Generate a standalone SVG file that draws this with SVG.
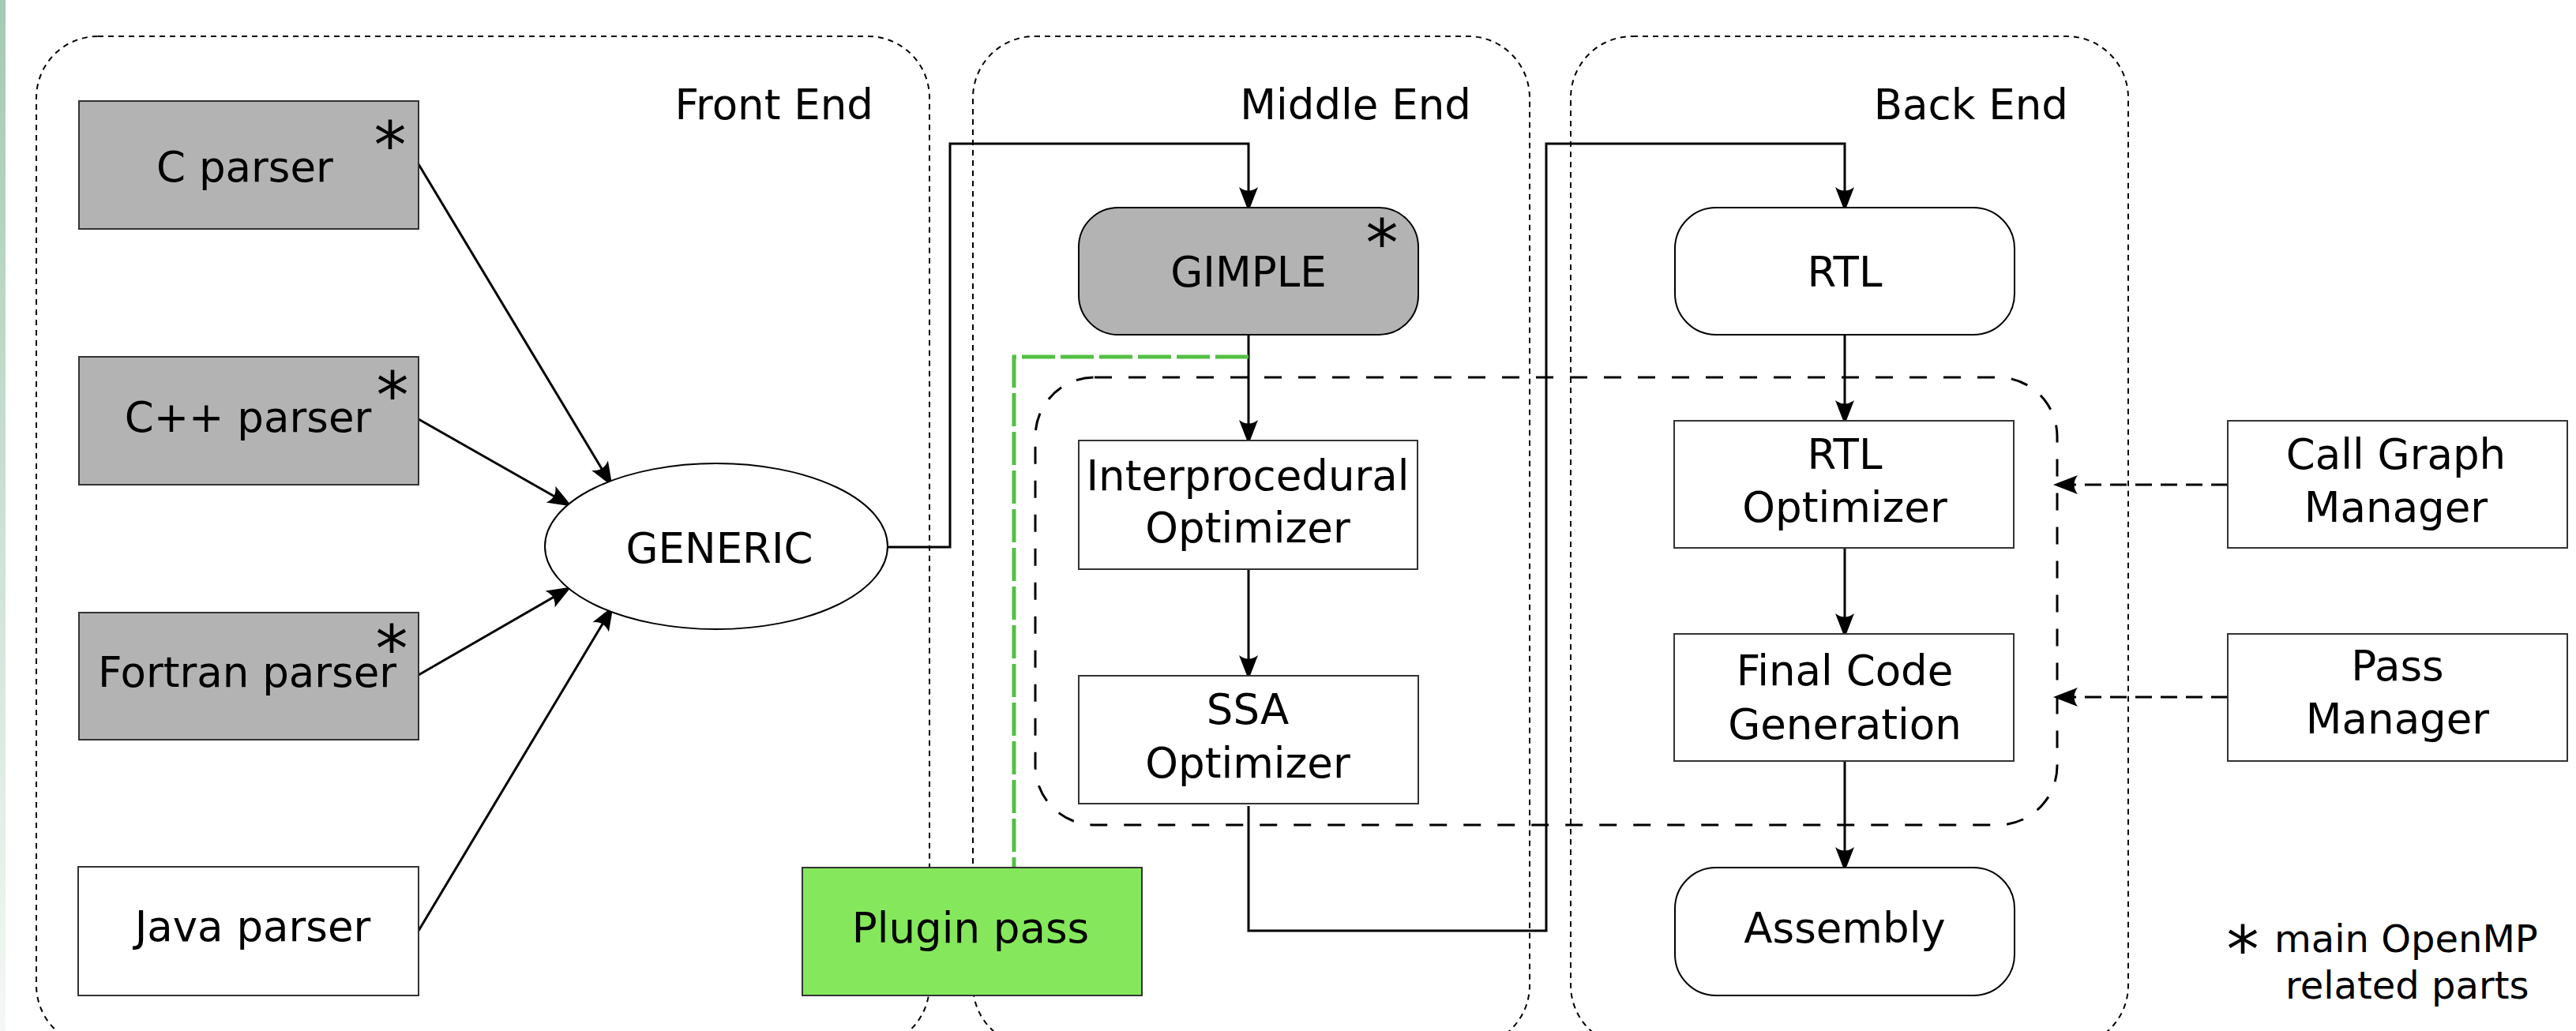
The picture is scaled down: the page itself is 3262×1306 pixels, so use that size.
<svg xmlns="http://www.w3.org/2000/svg" width="3262" height="1306" viewBox="0 0 3262 1306">
  <defs>
    <linearGradient id="edge" x1="0" y1="0" x2="0" y2="1">
      <stop offset="0" stop-color="#a5c9b3"/>
      <stop offset="1" stop-color="#f3f8f4"/>
    </linearGradient>
    <marker id="ah" markerUnits="userSpaceOnUse" viewBox="-38 -15 42 30" markerWidth="42" markerHeight="30" refX="-5" refY="0" orient="auto" overflow="visible">
      <path d="M0,0 L-31,-12 Q-22,0 -31,12 Z" fill="#000"/>
    </marker>
    <style>
      text { font-family: "DejaVu Sans", "Liberation Sans", sans-serif; font-size: 53px; fill: #000; }
      .mid { text-anchor: middle; }
      .title { text-anchor: end; }
      .star { font-size: 82px; text-anchor: middle; }
      .legend { font-size: 48px; }
      .stage { fill: none; stroke: #000; stroke-width: 2; stroke-dasharray: 7 6; }
      .group { fill: none; stroke: #000; stroke-width: 3; stroke-dasharray: 22 21; }
      .box { fill: #fff; stroke: #333; stroke-width: 2; }
      .round { fill: #fff; stroke: #000; stroke-width: 2; }
      .grey { fill: #b3b3b3; }
      .wire { fill: none; stroke: #000; stroke-width: 3; }
      .hook { fill: none; stroke: #000; stroke-width: 3; stroke-dasharray: 21 11; }
      .plug { fill: none; stroke: #55bf45; stroke-width: 5; stroke-dasharray: 42 7; }
    </style>
  </defs>

  <rect x="0" y="0" width="7" height="1306" fill="url(#edge)"/>

  <!-- compiler stages -->
  <g id="stages">
    <g id="front-end">
      <rect class="stage" x="46" y="46" width="1131" height="1280" rx="78" ry="78"/>
      <text class="title" x="1106" y="151">Front End</text>
    </g>
    <g id="middle-end">
      <rect class="stage" x="1232" y="46" width="705" height="1280" rx="78" ry="78"/>
      <text class="title" x="1863" y="151">Middle End</text>
    </g>
    <g id="back-end">
      <rect class="stage" x="1989" y="46" width="706" height="1280" rx="78" ry="78"/>
      <text class="title" x="2619" y="151">Back End</text>
    </g>
  </g>

  <!-- optimisation passes group -->
  <g id="pass-group">
    <rect class="group" x="1311" y="478" width="1294" height="567" rx="75" ry="75"/>
  </g>

  <!-- connectors -->
  <g id="connectors">
    <path class="wire" d="M530,208 L773,612" marker-end="url(#ah)"/>
    <path class="wire" d="M530,531 L720,639" marker-end="url(#ah)"/>
    <path class="wire" d="M530,855 L719,746" marker-end="url(#ah)"/>
    <path class="wire" d="M530,1179 L774,772" marker-end="url(#ah)"/>
    <path class="wire" d="M1124,693 H1203 V182 H1581 V263" marker-end="url(#ah)"/>
    <path class="wire" d="M1581,424 V558" marker-end="url(#ah)"/>
    <path class="wire" d="M1581,721 V856" marker-end="url(#ah)"/>
    <path class="wire" d="M1581,1021 V1179 H1958 V182 H2336 V263" marker-end="url(#ah)"/>
    <path class="wire" d="M2336,424 V533" marker-end="url(#ah)"/>
    <path class="wire" d="M2336,694 V803" marker-end="url(#ah)"/>
    <path class="wire" d="M2336,964 V1099" marker-end="url(#ah)"/>
    <path class="hook" d="M2821,614 H2605" marker-end="url(#ah)"/>
    <path class="hook" d="M2821,883 H2605" marker-end="url(#ah)"/>
    <path class="plug" d="M1581,452 H1284 V1099"/>
  </g>

  <!-- front end nodes -->
  <g id="c-parser">
    <rect class="box grey" x="100" y="128" width="430" height="162"/>
    <text class="mid" x="310" y="230">C parser</text>
    <text class="star" x="494" y="213">*</text>
  </g>
  <g id="cpp-parser">
    <rect class="box grey" x="100" y="452" width="430" height="162"/>
    <text class="mid" x="314" y="547">C++ parser</text>
    <text class="star" x="497" y="530">*</text>
  </g>
  <g id="fortran-parser">
    <rect class="box grey" x="100" y="776" width="430" height="161"/>
    <text class="mid" x="313" y="870">Fortran parser</text>
    <text class="star" x="496" y="851">*</text>
  </g>
  <g id="java-parser">
    <rect class="box" x="99" y="1098" width="431" height="163"/>
    <text class="mid" x="320" y="1192">Java parser</text>
  </g>
  <g id="generic">
    <ellipse cx="907" cy="692" rx="217" ry="105" fill="#fff" stroke="#000" stroke-width="2"/>
    <text class="mid" x="911" y="713">GENERIC</text>
  </g>
  <g id="plugin-pass">
    <rect x="1016" y="1099" width="430" height="162" fill="#85e85c" stroke="#333" stroke-width="2"/>
    <text class="mid" x="1229" y="1194">Plugin pass</text>
  </g>

  <!-- middle end nodes -->
  <g id="gimple">
    <rect class="round grey" x="1366" y="263" width="430" height="161" rx="50" ry="50"/>
    <text class="mid" x="1581" y="363">GIMPLE</text>
    <text class="star" x="1750" y="337">*</text>
  </g>
  <g id="ipa-optimizer">
    <rect class="box" x="1366" y="558" width="429" height="163"/>
    <text class="mid" x="1580" y="621">Interprocedural</text>
    <text class="mid" x="1580" y="687">Optimizer</text>
  </g>
  <g id="ssa-optimizer">
    <rect class="box" x="1366" y="856" width="430" height="162"/>
    <text class="mid" x="1580" y="917">SSA</text>
    <text class="mid" x="1580" y="985">Optimizer</text>
  </g>

  <!-- back end nodes -->
  <g id="rtl">
    <rect class="round" x="2121" y="263" width="430" height="161" rx="52" ry="52"/>
    <text class="mid" x="2336" y="363">RTL</text>
  </g>
  <g id="rtl-optimizer">
    <rect class="box" x="2120" y="533" width="430" height="161"/>
    <text class="mid" x="2336" y="594">RTL</text>
    <text class="mid" x="2336" y="661">Optimizer</text>
  </g>
  <g id="final-codegen">
    <rect class="box" x="2120" y="803" width="430" height="161"/>
    <text class="mid" x="2336" y="868">Final Code</text>
    <text class="mid" x="2336" y="936">Generation</text>
  </g>
  <g id="assembly">
    <rect class="round" x="2121" y="1099" width="430" height="162" rx="52" ry="52"/>
    <text class="mid" x="2336" y="1194">Assembly</text>
  </g>

  <!-- managers -->
  <g id="call-graph-manager">
    <rect class="box" x="2821" y="533" width="430" height="161"/>
    <text class="mid" x="3034" y="594">Call Graph</text>
    <text class="mid" x="3034" y="661">Manager</text>
  </g>
  <g id="pass-manager">
    <rect class="box" x="2821" y="803" width="430" height="161"/>
    <text class="mid" x="3036" y="862">Pass</text>
    <text class="mid" x="3036" y="929">Manager</text>
  </g>

  <!-- legend -->
  <g id="legend">
    <text class="star" x="2840" y="1232">*</text>
    <text class="legend" x="2880" y="1206">main OpenMP</text>
    <text class="legend" x="2894" y="1265">related parts</text>
  </g>
</svg>
